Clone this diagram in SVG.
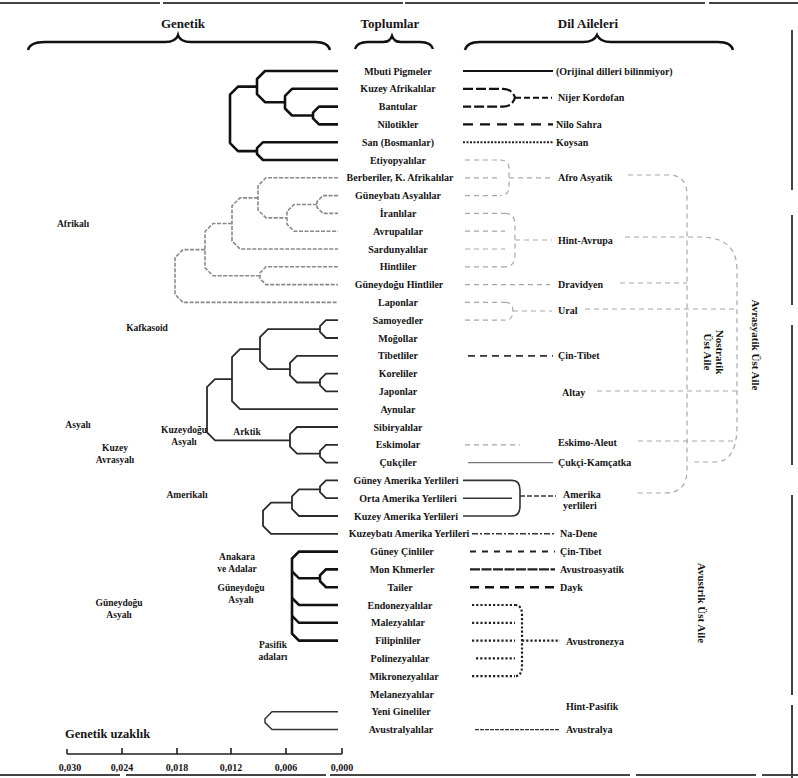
<svg xmlns="http://www.w3.org/2000/svg" width="798" height="778" viewBox="0 0 798 778">
<style>
text{font-family:"Liberation Serif","Times New Roman",serif;font-weight:bold;fill:#151515}
.pop{font-size:10px;text-anchor:middle}
.lang{font-size:10px;text-anchor:start}
.grp{font-size:9.5px;text-anchor:middle}
.hdr{font-size:13px;text-anchor:middle}
.ax{font-size:10px;text-anchor:middle}
.rot{font-size:11px;text-anchor:middle}
path,line{fill:none}
.afr{stroke:#111;stroke-width:2.6;stroke-linejoin:round}
.cau{stroke:#8a8a8a;stroke-width:1.6;stroke-dasharray:4 1.5}
.nea{stroke:#2a2a2a;stroke-width:1.8}
.sea{stroke:#111;stroke-width:2.6}
.ng{stroke:#333;stroke-width:1.5}
.faint{stroke:#a8a8a8;stroke-width:1.2;stroke-dasharray:5 4}
.brace{stroke:#111;stroke-width:2.4}
.edge{stroke:#444;stroke-width:2}
</style>

<g id="scan-edges">
<path class="edge" d="M0,3 H798" stroke-dasharray="160 3 240 2 300 4"/>
<path class="edge" d="M792,30 V778" stroke-dasharray="160 25 90 20 140 30 200 10"/>
<path class="edge" d="M0,775 H798" stroke-dasharray="120 6 200 4 300 6"/>
</g>

<g id="headers">
<g id="h-genetik"><text class="hdr" x="183" y="28">Genetik</text>
<path class="brace" d="M28,50 Q30,42 45,42 H165 Q176,42 178,35 Q180,42 191,42 H315 Q328,42 330,50"/></g>
<g id="h-toplumlar"><text class="hdr" x="390" y="28">Toplumlar</text>
<path class="brace" d="M355,49 Q357,42 368,42 H383 Q390,42 392,36 Q394,42 401,42 H420 Q431,42 433,49"/></g>
<g id="h-dil"><text class="hdr" x="588" y="28">Dil Aileleri</text>
<path class="brace" d="M465,50 Q467,42 480,42 H583 Q594,42 597,35 Q600,42 611,42 H718 Q731,42 733,50"/></g>
</g>

<g id="connectors">
<!-- Afrika -->
<path class="afr" d="M338,106.6 H319 L313,112.6 V118.4 L319,124.4 H338"/>
<path class="afr" d="M338,88.8 H292 L285,95.8 V108.5 L292,115.5 H313"/>
<path class="afr" d="M338,71 H265 L257,79 V94.2 L265,102.2 H285"/>
<path class="afr" d="M338,142.2 H263 L257,148.2 V154 L263,160 H338"/>
<path class="afr" d="M257,86.6 H238 L230,94.6 V143.1 L238,151.1 H257"/>
<!-- Kafkasoid -->
<path class="cau" d="M338,195.6 H323 L317,201.6 V207.4 L323,213.4 H338"/>
<path class="cau" d="M317,204.5 H294 L287,211.5 V224.2 L294,231.2 H338"/>
<path class="cau" d="M338,177.8 H266 L258,185.8 V209.9 L266,217.9 H287"/>
<path class="cau" d="M258,197.9 H240 L232,205.9 V241 L240,249 H338"/>
<path class="cau" d="M338,266.8 H266 L260,272.8 V278.6 L266,284.6 H338"/>
<path class="cau" d="M232,223.5 H213 L205,231.5 V267.7 L213,275.7 H260"/>
<path class="cau" d="M205,249.6 H183 L175,257.6 V294.4 L183,302.4 H338"/>
<!-- Kuzeydogu Asya / Arktik -->
<path class="nea" d="M338,320.2 H326 L320,326.2 V332 L326,338 H338"/>
<path class="nea" d="M338,373.6 H326 L320,379.6 V385.4 L326,391.4 H338"/>
<path class="nea" d="M338,355.8 H297 L290,362.8 V375.5 L297,382.5 H320"/>
<path class="nea" d="M320,329.1 H268 L260,337.1 V361.2 L268,369.2 H290"/>
<path class="nea" d="M260,349.1 H240 L232,357.1 V401.2 L240,409.2 H338"/>
<path class="nea" d="M338,444.8 H326 L320,450.8 V456.6 L326,462.6 H338"/>
<path class="nea" d="M338,427 H297 L290,434 V446.7 L297,453.7 H320"/>
<path class="nea" d="M232,379.2 H215 L207,387.2 V432.3 L215,440.3 H290"/>
<!-- Amerika -->
<path class="nea" d="M338,480.4 H326 L320,486.4 V492.2 L326,498.2 H338"/>
<path class="nea" d="M320,489.3 H299 L292,496.3 V509 L299,516 H338"/>
<path class="nea" d="M292,502.7 H271 L263,510.7 V525.8 L271,533.8 H338"/>
<!-- Guneydogu Asya -->
<path class="sea" d="M338,551.6 H299 L292,558.6 V633.6 L299,640.6 H338"/>
<path class="sea" d="M292,571.3 L299,578.3 H320"/>
<path class="sea" d="M338,569.4 H326 L320,575.4 V581.2 L326,587.2 H338"/>
<path class="sea" d="M292,598 L299,605 H338"/>
<path class="sea" d="M292,615.8 L299,622.8 H338"/>
<!-- Yeni Gine / Avustralya -->
<path class="ng" d="M338,711.8 H272 L265,718.8 V722.6 L272,729.6 H338"/>

<!-- Dil aileleri -->
<path d="M463,71 H553" stroke="#111" stroke-width="2"/>
<path d="M463,88.8 H503 Q512,88.8 515,97.7 Q512,106.6 503,106.6 H463" stroke="#111" stroke-width="2.2" stroke-dasharray="10 3"/>
<path d="M515,97.7 H552" stroke="#111" stroke-width="2" stroke-dasharray="6 3"/>
<path d="M463,124.4 H553" stroke="#111" stroke-width="2.4" stroke-dasharray="10 7"/>
<path d="M463,142.2 H553" stroke="#222" stroke-width="2" stroke-dasharray="2 1.5"/>
<path class="faint" d="M465,160 H500 M465,177.8 H500 M465,195.6 H500 M500,160 Q509,160 509,169 V187 Q509,195.6 500,195.6 M509,177.8 H550"/>
<path class="faint" d="M628,175 H668 Q687,175 687,195 V470 Q687,493 665,493 H637"/>
<path class="faint" d="M465,213.4 H505 M465,231.2 H505 M465,249 H505 M465,266.8 H505 M505,213.4 Q515,213.4 515,225 V255 Q515,266.8 505,266.8 M515,240 H552"/>
<path class="faint" d="M625,237 H700 Q737,237 737,270 V425 Q737,462 715,462 H690"/>
<path class="faint" d="M465,284.6 H550 M620,283 H687"/>
<path class="faint" d="M465,302.4 H505 M465,320.2 H505 M505,302.4 Q513,302.4 513,311 Q513,320.2 505,320.2 M513,311 H552 M585,309 H737"/>
<path d="M468,355.8 H553" stroke="#333" stroke-width="1.8" stroke-dasharray="7 5"/>
<path class="faint" d="M597,391 H737"/>
<path class="faint" d="M465,444.8 H520 M638,441 H737"/>
<path d="M468,462.6 H553" stroke="#777" stroke-width="1.2"/>
<path d="M463,480.4 H512 M463,498.2 H512 M463,516 H512 M512,480.4 Q520,480.4 520,490 V506 Q520,516 512,516" stroke="#333" stroke-width="1.6"/>
<path d="M520,496 H556" stroke="#333" stroke-width="1.6" stroke-dasharray="5 2"/>
<path d="M472,533.8 H555" stroke="#333" stroke-width="1.6" stroke-dasharray="6 2 2 2"/>
<path d="M470,551.6 H555" stroke="#222" stroke-width="2" stroke-dasharray="6 6"/>
<path d="M470,569.4 H555" stroke="#222" stroke-width="2.4" stroke-dasharray="10 1.5"/>
<path d="M470,587.2 H555" stroke="#111" stroke-width="2.6" stroke-dasharray="9 6"/>
<path d="M472,605 H515 M472,622.8 H515 M472,640.6 H515 M476,658.4 H515 M472,676.2 H515 M515,605 Q522,605 522,615 V666 Q522,676.2 515,676.2 M522,640.6 H560" stroke="#222" stroke-width="2.2" stroke-dasharray="2.2 2"/>
<path d="M475,729.6 H560" stroke="#333" stroke-width="1.4" stroke-dasharray="4 1"/>

<!-- Genetik uzaklik ekseni -->
<path d="M67,754 H342 M67,754 V749 M122,754 V748 M177,754 V748 M231,754 V748 M286,754 V748 M342,754 V748" stroke="#222" stroke-width="1.6"/>
</g>

<g id="populations">
<g id="p01"><text class="pop" x="398" y="74.5">Mbuti Pigmeler</text></g>
<g id="p02"><text class="pop" x="398" y="92.3">Kuzey Afrikalılar</text></g>
<g id="p03"><text class="pop" x="398" y="110.1">Bantular</text></g>
<g id="p04"><text class="pop" x="398" y="127.9">Nilotikler</text></g>
<g id="p05"><text class="pop" x="398" y="145.7">San (Bosmanlar)</text></g>
<g id="p06"><text class="pop" x="398" y="163.5">Etiyopyalılar</text></g>
<g id="p07"><text class="pop" x="400" y="181.3">Berberiler, K. Afrikalılar</text></g>
<g id="p08"><text class="pop" x="398" y="199.1">Güneybatı Asyalılar</text></g>
<g id="p09"><text class="pop" x="398" y="216.9">İranlılar</text></g>
<g id="p10"><text class="pop" x="398" y="234.7">Avrupalılar</text></g>
<g id="p11"><text class="pop" x="398" y="252.5">Sardunyalılar</text></g>
<g id="p12"><text class="pop" x="398" y="270.3">Hintliler</text></g>
<g id="p13"><text class="pop" x="399" y="288.1">Güneydoğu Hintliler</text></g>
<g id="p14"><text class="pop" x="398" y="305.9">Laponlar</text></g>
<g id="p15"><text class="pop" x="398" y="323.7">Samoyedler</text></g>
<g id="p16"><text class="pop" x="398" y="341.5">Moğollar</text></g>
<g id="p17"><text class="pop" x="398" y="359.3">Tibetliler</text></g>
<g id="p18"><text class="pop" x="398" y="377.1">Koreliler</text></g>
<g id="p19"><text class="pop" x="398" y="394.9">Japonlar</text></g>
<g id="p20"><text class="pop" x="398" y="412.7">Aynular</text></g>
<g id="p21"><text class="pop" x="398" y="430.5">Sibiryalılar</text></g>
<g id="p22"><text class="pop" x="398" y="448.3">Eskimolar</text></g>
<g id="p23"><text class="pop" x="398" y="466.1">Çukçiler</text></g>
<g id="p24"><text class="pop" x="406" y="483.9">Güney Amerika Yerlileri</text></g>
<g id="p25"><text class="pop" x="408" y="501.7">Orta Amerika Yerlileri</text></g>
<g id="p26"><text class="pop" x="406" y="519.5">Kuzey Amerika Yerlileri</text></g>
<g id="p27"><text class="pop" x="409" y="537.3">Kuzeybatı Amerika Yerlileri</text></g>
<g id="p28"><text class="pop" x="402" y="555.1">Güney Çinliler</text></g>
<g id="p29"><text class="pop" x="402" y="572.9">Mon Khmerler</text></g>
<g id="p30"><text class="pop" x="400" y="590.7">Tailer</text></g>
<g id="p31"><text class="pop" x="400" y="608.5">Endonezyalılar</text></g>
<g id="p32"><text class="pop" x="398" y="626.3">Malezyalılar</text></g>
<g id="p33"><text class="pop" x="398" y="644.1">Filipinliler</text></g>
<g id="p34"><text class="pop" x="400" y="661.9">Polinezyalılar</text></g>
<g id="p35"><text class="pop" x="404" y="679.7">Mikronezyalılar</text></g>
<g id="p36"><text class="pop" x="402" y="697.5">Melanezyalılar</text></g>
<g id="p37"><text class="pop" x="401" y="715.3">Yeni Gineliler</text></g>
<g id="p38"><text class="pop" x="401" y="733.1">Avustralyalılar</text></g>
</g>

<g id="languages">
<g id="l01"><text class="lang" x="556" y="74.5">(Orijinal dilleri bilinmiyor)</text></g>
<g id="l02"><text class="lang" x="558" y="101.2">Nijer Kordofan</text></g>
<g id="l03"><text class="lang" x="556" y="127.9">Nilo Sahra</text></g>
<g id="l04"><text class="lang" x="556" y="145.7">Koysan</text></g>
<g id="l05"><text class="lang" x="558" y="181.3">Afro Asyatik</text></g>
<g id="l06"><text class="lang" x="558" y="243.5">Hint-Avrupa</text></g>
<g id="l07"><text class="lang" x="558" y="287.5">Dravidyen</text></g>
<g id="l08"><text class="lang" x="558" y="313.5">Ural</text></g>
<g id="l09"><text class="lang" x="558" y="359.3">Çin-Tibet</text></g>
<g id="l10"><text class="lang" x="562" y="395.5">Altay</text></g>
<g id="l11"><text class="lang" x="558" y="445.5">Eskimo-Aleut</text></g>
<g id="l12"><text class="lang" x="558" y="466">Çukçi-Kamçatka</text></g>
<g id="l13"><text class="lang" x="563" y="497.5">Amerika</text><text class="lang" x="563" y="509">yerlileri</text></g>
<g id="l14"><text class="lang" x="560" y="537">Na-Dene</text></g>
<g id="l15"><text class="lang" x="560" y="555">Çin-Tibet</text></g>
<g id="l16"><text class="lang" x="560" y="572.9">Avustroasyatik</text></g>
<g id="l17"><text class="lang" x="560" y="590.7">Dayk</text></g>
<g id="l18"><text class="lang" x="566" y="645">Avustronezya</text></g>
<g id="l19"><text class="lang" x="566" y="709.5">Hint-Pasifik</text></g>
<g id="l20"><text class="lang" x="566" y="733.1">Avustralya</text></g>
<g id="sf-nostratik"><text class="rot" transform="translate(716,352) rotate(90)"><tspan x="0" y="0">Nostratik</tspan><tspan x="0" y="12">Üst Aile</tspan></text></g>
<g id="sf-avrasyatik"><text class="rot" transform="translate(752,345) rotate(90)">Avrasyatik Üst Aile</text></g>
<g id="sf-avustrik"><text class="rot" transform="translate(698,603) rotate(90)">Avustrik Üst Aile</text></g>
</g>

<g id="clusters">
<g id="g-afrikali"><text class="grp" x="73" y="227">Afrikalı</text></g>
<g id="g-kafkasoid"><text class="grp" x="147" y="331">Kafkasoid</text></g>
<g id="g-asyali"><text class="grp" x="78" y="428">Asyalı</text></g>
<g id="g-kuzeyavrasyali"><text class="grp" x="115" y="451">Kuzey</text><text class="grp" x="115" y="463">Avrasyalı</text></g>
<g id="g-kuzeydoguasyali"><text class="grp" x="184" y="433">Kuzeydoğu</text><text class="grp" x="184" y="445">Asyalı</text></g>
<g id="g-arktik"><text class="grp" x="247" y="435">Arktik</text></g>
<g id="g-amerikali"><text class="grp" x="187" y="498">Amerikalı</text></g>
<g id="g-anakara"><text class="grp" x="237" y="560">Anakara</text><text class="grp" x="237" y="572">ve Adalar</text></g>
<g id="g-gdasyali2"><text class="grp" x="241" y="591">Güneydoğu</text><text class="grp" x="241" y="603">Asyalı</text></g>
<g id="g-gdasyali"><text class="grp" x="119" y="606">Güneydoğu</text><text class="grp" x="119" y="618">Asyalı</text></g>
<g id="g-pasifik"><text class="grp" x="273" y="648">Pasifik</text><text class="grp" x="273" y="660">adaları</text></g>
</g>

<g id="axis-labels">
<text x="65" y="738" style="font-size:12.5px">Genetik uzaklık</text>
<text class="ax" x="70" y="771">0,030</text>
<text class="ax" x="122" y="771">0,024</text>
<text class="ax" x="177" y="771">0,018</text>
<text class="ax" x="231" y="771">0,012</text>
<text class="ax" x="286" y="771">0,006</text>
<text class="ax" x="342" y="771">0,000</text>
</g>
</svg>
